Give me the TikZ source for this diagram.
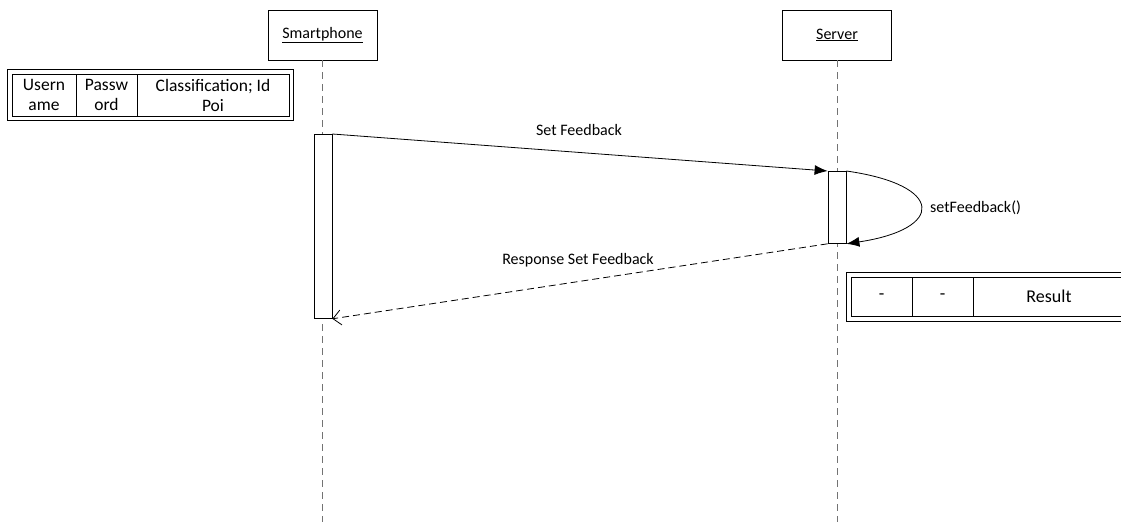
\documentclass[tikz,border=0pt]{standalone}
\usepackage{fontspec}
\setmainfont{Carlito}
\usetikzlibrary{arrows.meta,positioning,fit}

\tikzset{
  head/.style={draw, line width=0.8pt, minimum width=109pt, minimum height=50pt,
    inner sep=0pt, font=\fontsize{16}{19}\selectfont},
  bar/.style={draw, fill=white, line width=0.8pt, minimum width=18pt, inner sep=0pt},
  lifeline/.style={draw=black!55, line width=0.9pt, dash pattern=on 7pt off 5pt},
  msg/.style={line width=0.8pt, -{Latex[length=13pt,width=10pt]}},
  reply/.style={line width=0.8pt, dash pattern=on 7pt off 4pt,
    -{Straight Barb[length=8pt,width=15pt]}},
  lbl/.style={font=\fontsize{16}{19}\selectfont, inner sep=0pt},
  cell/.style={draw, line width=0.8pt, outer sep=0pt, inner sep=0pt, align=center,
    font=\fontsize{17.5}{20}\selectfont},
  frame/.style={draw, outer sep=0pt},
}

\begin{document}
\begin{tikzpicture}[x=1pt,y=-1pt]
    \useasboundingbox (0,0) rectangle (1121,522);

    % lifeline heads
    \node[head] (phone) at (322.5,35) {\underline{Smartphone}};
    \node[head] (server) at (837,35) {\underline{Server}};

    % lifelines
    \coordinate (phoneend) at (322.5,522);
    \coordinate (serverend) at (837,522);
    \draw[lifeline] (phone) -- (phoneend);
    \draw[lifeline] (server) -- (serverend);

    % activation bars
    \node[bar, minimum height=184pt, anchor=north] (phonebar) at (323,134) {};
    \node[bar, minimum height=72pt, anchor=north] (srvbar) at (837,171) {};

    % messages
    \draw[msg] (phonebar.north east) -- (srvbar.north west);
    \node[lbl] (setlbl) at (579,130) {Set Feedback};

    \draw[msg] (srvbar.north east) .. controls (945,185) and (945,229) .. (srvbar.south east);
    \node[lbl, anchor=west] (selflbl) at (930,208) {setFeedback()};

    \draw[reply] (srvbar.south west) -- (phonebar.south east);
    \node[lbl] (resplbl) at (578,260) {Response Set Feedback};

    % request data
    \node[cell, minimum width=64pt, minimum height=42pt, anchor=north west] (user) at (12,74) {Usern\\ame};
    \node[cell, minimum width=61pt, minimum height=42pt, right=0pt of user] (pass) {Passw\\ord};
    \node[cell, minimum width=152pt, minimum height=42pt, right=0pt of pass] (poi) {Classification; Id\\Poi};
    \node[frame, line width=1.8pt, fit=(user)(poi), inner sep=4.5pt] (request) {};

    % response data
    \node[cell, minimum width=61pt, minimum height=39pt, anchor=north west, font=\fontsize{18}{21}\selectfont] (dasha) at (851,277) {-};
    \node[cell, minimum width=61pt, minimum height=39pt, right=0pt of dasha, font=\fontsize{18}{21}\selectfont] (dashb) {-};
    \node[cell, minimum width=152pt, minimum height=39pt, right=0pt of dashb, font=\fontsize{18}{21}\selectfont] (result) {Result};
    \node[frame, line width=1pt, fit=(dasha)(result), inner sep=5pt] (response) {};
\end{tikzpicture}
\end{document}
